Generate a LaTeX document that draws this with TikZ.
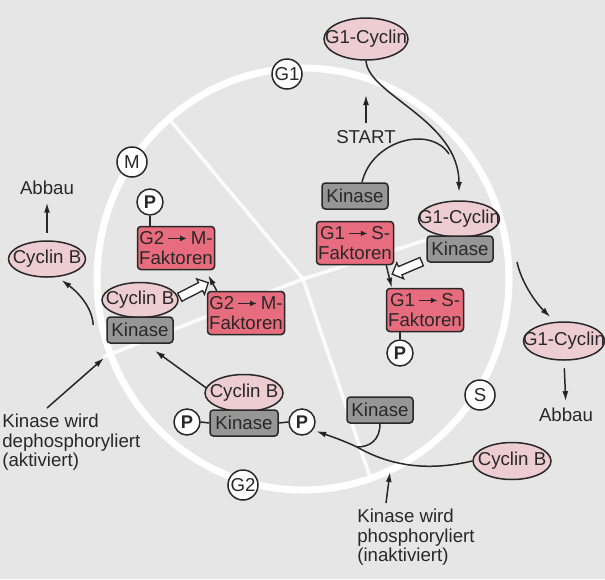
\documentclass[tikz,border=0pt]{standalone}
\usepackage{fontspec}
\setmainfont{Liberation Sans}
\usetikzlibrary{shapes.geometric,shapes.arrows,arrows.meta,calc}
\definecolor{bg}{RGB}{230,230,230}
\definecolor{cycpink}{RGB}{237,205,210}
\definecolor{facred}{RGB}{231,109,126}
\definecolor{kingray}{RGB}{150,150,150}
\definecolor{ink}{RGB}{40,40,40}
\newcommand\rarr{\tikz[baseline=0pt]\draw[ink,-{Latex[length=4pt,width=3.6pt]},line width=0.9pt] (0,0.34em)--(1.0em,0.34em);}
\tikzset{
  cyc/.style={ellipse, draw=ink, fill=cycpink, line width=0.9pt, inner sep=0pt,
              minimum width=0.6*78pt, minimum height=0.6*37pt, text=ink},
  kin/.style={rectangle, rounded corners=2pt, draw=ink, fill=kingray, line width=0.9pt,
              minimum width=0.6*66pt, minimum height=0.6*26pt, inner sep=0pt, text=ink},
  fac/.style={rectangle, rounded corners=2pt, draw=ink, fill=facred, line width=0.9pt,
              minimum width=0.6*77pt, minimum height=0.6*43pt, inner sep=0pt, align=center, text=ink},
  pcirc/.style={circle, draw=ink, fill=white, line width=0.9pt, minimum size=0.6*26pt,
              inner sep=0pt, font=\fontsize{11pt}{11.4pt}\selectfont\bfseries, text=ink},
  phase/.style={circle, draw=ink, fill=white, line width=0.9pt, minimum size=0.6*30pt,
              inner sep=0pt, text=ink},
  hollow/.style={single arrow, draw=ink, fill=white, line width=0.8pt, inner sep=2.3pt,
              single arrow head extend=2.5pt, minimum height=0.6*32pt},
  lbl/.style={text=ink, inner sep=0pt, align=left},
  conn/.style={draw=ink, line width=0.9pt},
  arr/.style={conn, -{Latex[length=6pt,width=3.6pt]}},
  ring/.style={draw=white, line width=0.6*7pt},
  divider/.style={draw=white, draw opacity=0.85, line width=0.6*3.5pt}
}
\begin{document}
\begin{tikzpicture}[x=0.6pt, y=-0.6pt, font=\fontsize{11.2pt}{11.6pt}\selectfont]
\useasboundingbox (0,0) rectangle (605,579);
\fill[bg] (0,0) rectangle (605,579);

% cell cycle ring and phase dividers
\coordinate (ctr) at (303,279);
\draw[ring] (ctr) ellipse [x radius=206, y radius=211];
\coordinate (dGM) at (170,120);
\coordinate (dGS) at (502,216);
\coordinate (dSG) at (370,477);
\coordinate (dGMb) at (103,357);
\draw[divider] (ctr) -- (dGM);
\draw[divider] (ctr) -- (dGS);
\draw[divider] (ctr) -- (dSG);
\draw[divider] (ctr) -- (dGMb);

% phase labels
\node[phase] (phG1) at (287,74) {G1};
\node[phase] (phM) at (132,162) {M};
\node[phase] (phS) at (480,395) {S};
\node[phase] (phG2) at (243,485) {G2};

% G1 side
\node[cyc, minimum width=0.6*84pt, minimum height=0.6*42pt] (g1top) at (366,39) {\makebox[0pt]{G1-Cyclin}};
\node[lbl] (start) at (366,137) {START};
\node[kin] (kinA) at (355,196) {Kinase};
\node[cyc, minimum width=0.6*81pt, minimum height=0.6*36pt] (g1mid) at (459,219) {\makebox[0pt]{G1-Cyclin}};
\node[kin] (kinB) at (460,249) {Kinase};
\node[fac] (fac1) at (355,243) {G1\,\rarr\,S-\\Faktoren};
\node[hollow, rotate=203] (hol1) at (409,267) {};
\node[fac] (fac2) at (425,310) {G1\,\rarr\,S-\\Faktoren};
\node[pcirc] (p2) at (400,353) {P};
\node[cyc, minimum width=0.6*81pt, minimum height=0.6*38pt] (g1right) at (564,341) {\makebox[0pt]{G1-Cyclin}};
\node[lbl] (abbauR) at (566,415) {Abbau};

% S / G2 side
\node[kin] (kinC) at (380,410) {Kinase};
\node[cyc] (cycR) at (512,461) {\makebox[0pt]{Cyclin B}};
\node[lbl, anchor=north west] (textR) at (357,509) {Kinase wird\\phosphoryliert\\(inaktiviert)};
\node[cyc] (cycM) at (244,393) {\makebox[0pt]{Cyclin B}};
\node[kin, minimum width=0.6*68pt] (kinM) at (244,423) {Kinase};
\node[pcirc] (p4) at (187,422) {P};
\node[pcirc] (p5) at (302,422) {P};

% M side
\node[cyc, minimum width=0.6*76pt, minimum height=0.6*35pt] (cycL2) at (140,300) {\makebox[0pt]{Cyclin B}};
\node[kin] (kinL) at (140,330) {Kinase};
\node[hollow, rotate=27] (hol2) at (192,291) {};
\node[fac] (fac3) at (176,248) {G2\,\rarr\,M-\\Faktoren};
\node[pcirc] (p1) at (150,202) {P};
\node[fac] (fac4) at (246,313) {G2\,\rarr\,M-\\Faktoren};
\node[cyc, minimum width=0.6*77pt, minimum height=0.6*36pt] (cycL) at (47,259) {\makebox[0pt]{Cyclin B}};
\node[lbl] (abbauL) at (47,188) {Abbau};
\node[lbl, anchor=north west] (textL) at (2,414) {Kinase wird\\dephosphoryliert\\(aktiviert)};

% connectors: G1 side
\draw[arr, shorten >=5pt] (g1top.south) .. controls (368,95) and (459,120) .. (g1mid.north);
\coordinate (merge1) at (449,154);
\draw[conn] ($(kinA.north)+(7,0)$) .. controls (372,140) and (430,125) .. (merge1);
\coordinate (starttip) at (366,95);
\draw[arr, shorten <=4pt] (start.north) -- (starttip);
\draw[arr] ($(fac1.south east)+(-8,0)$) -- ($(fac2.north west)+(6,0)$);
\draw[conn] (p2.north) -- (p2.north |- fac2.south);
\coordinate (g1rstart) at (517,262);
\draw[arr, shorten >=4pt] (g1rstart) .. controls (522,285) and (538,305) .. (g1right.115);
\draw[arr, shorten <=4.5pt, shorten >=4pt] (g1right.south) -- (abbauR.north);

% connectors: S / G2 side
\coordinate (mergeB) at (357,447);
\draw[arr, shorten >=2pt] (cycR.west) .. controls (430,471) and (392,467) .. (mergeB)
   .. controls (342,440) and (330,436) .. (p5.-36);
\draw[conn] (kinC.south) .. controls (380,440) and (370,447) .. (mergeB);
\coordinate (phtip) at (390,472);
\draw[arr] ($(textR.north west)+(29,-6)$) -- (phtip);
\draw[conn] (p4.east) -- (kinM.west);
\draw[conn] (kinM.east) -- (p5.west);

% connectors: M side
\coordinate (kinLtip) at ($(kinL.south)+(15,7)$);
\draw[arr] (cycM.172) -- (kinLtip);
\coordinate (kinLstart) at ($(kinL.west)+(-13,-5)$);
\draw[arr, shorten >=3pt] (kinLstart) .. controls (92,305) and (75,290) .. (cycL.-60);
\coordinate (dephtip) at (104,358);
\draw[arr] ($(textL.north west)+(45,-6)$) -- (dephtip);
\draw[arr, shorten <=4.5pt, shorten >=4.5pt] (cycL.north) -- (abbauL.south);
\draw[conn] (p1.south) -- (p1.south |- fac3.north);
\draw[arr] ($(fac4.north west)+(10,0)$) -- ($(fac3.south east)+(-7,5)$);
\end{tikzpicture}
\end{document}
